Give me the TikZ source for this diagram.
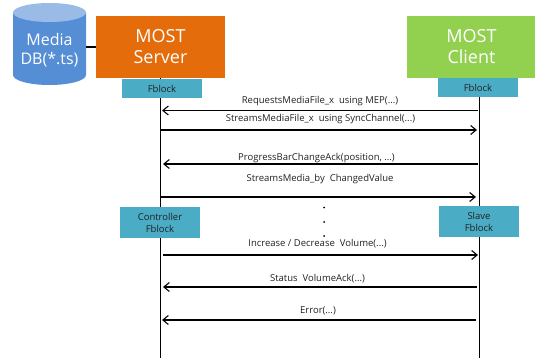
\documentclass[tikz,border=0pt]{standalone}
\usepackage{fontspec}
\setmainfont{Open Sans}
\usetikzlibrary{arrows.meta}
\definecolor{orangebox}{HTML}{E46C0A}
\definecolor{greenbox}{HTML}{92D050}
\definecolor{tealbox}{HTML}{4BACC6}
\definecolor{dbblue}{HTML}{558ED5}
\definecolor{dbtop}{HTML}{9ABBE6}
\definecolor{inktext}{HTML}{222222}
\tikzset{
  mainbox/.style={minimum width=129pt,minimum height=62pt,inner sep=0pt,align=center,text=white,font=\fontsize{18}{21}\selectfont},
  blockbox/.style={fill=tealbox,minimum width=80pt,inner sep=0pt,align=center,text=inktext,font=\fontsize{9.5}{12}\selectfont},
  msg/.style={line width=1.1pt,-{Straight Barb[length=5.5pt,width=9pt,line width=1.1pt]}},
  lbl/.style={inner sep=0pt,text=inktext,font=\fontsize{9.5}{10}\selectfont},
  life/.style={line width=1.1pt},
  dotm/.style={circle,fill=black,inner sep=0pt,minimum size=2pt}
}
\begin{document}
\begin{tikzpicture}[x=1pt,y=-1pt]
\useasboundingbox (0,0) rectangle (535,358);
\fill[white] (0,0) rectangle (535,358);
% end points of lifelines
\coordinate (lbot) at (160.5,358);
\coordinate (rbot) at (479.5,358);
\coordinate (ltop) at (160.5,78);
\coordinate (rtop) at (479.5,78);
\draw[life] (ltop) -- (lbot);
\draw[life] (rtop) -- (rbot);
% database
\fill[dbblue] (13,13) -- (86,13) -- (86,75) arc[x radius=36.5,y radius=10,start angle=0,end angle=180] -- cycle;
\fill[dbtop] (49.5,12.5) ellipse[x radius=36.5,y radius=9.5];
\node[align=center,text=white,inner sep=0pt,font=\fontsize{16}{19.5}\selectfont] (dbtext) at (49.5,50) {Media\\DB(*.ts)};
\coordinate (dbedge) at (86,47.5);
% boxes
\node[mainbox,fill=orangebox] (server) at (160.5,47) {MOST\\Server};
\node[mainbox,fill=greenbox] (client) at (471.5,47) {MOST\\Client};
\draw[line width=2pt] (dbedge) -- (server.west|-dbedge);
\node[blockbox,minimum height=19pt] (fl) at (162,88.5) {Fblock};
\node[blockbox,minimum height=19pt] (fr) at (478,87.5) {Fblock};
\node[blockbox,minimum height=31pt] (ctrl) at (160,222.5) {Controller\\Fblock};
\node[blockbox,minimum height=31pt] (slave) at (479,221.5) {Slave\\Fblock};
% message ends
\foreach \n/\y/\a/\b in {a/110.5/162/478,b/130/161/477,c/164/163/478,d/197/161/476,e/255/163/478,f/287/163/477,g/320/162/476}{
  \coordinate (\n l) at (\a,\y);
  \coordinate (\n r) at (\b,\y);
}
\draw[msg] (ar) -- node[lbl,yshift=9.5pt] (ta) {RequestsMediaFile\_x\ \ using MEP(...)} (al);
\draw[msg] (bl) -- node[lbl,yshift=10.5pt,xshift=1.5pt] (tb) {StreamsMediaFile\_x\ \ using SyncChannel(...)} (br);
\draw[msg] (cr) -- node[lbl,yshift=6pt,xshift=-4pt] (tc) {ProgressBarChangeAck(position, ...)} (cl);
\draw[msg] (dl) -- node[lbl,yshift=18pt,xshift=1.5pt] (td) {StreamsMedia\_by\ \ ChangedValue} (dr);
\draw[msg] (el) -- node[lbl,yshift=11pt,xshift=-3pt] (te) {Increase / Decrease\ \ Volume(...)} (er);
\draw[msg] (fr) -- node[lbl,yshift=8pt,xshift=-2.5pt] (tf) {Status\ \ VolumeAck(...)} (fl);
\draw[msg] (gr) -- node[lbl,yshift=9.5pt,xshift=-1pt] (tg) {Error(...)} (gl);
\node[dotm] (d1) at (324,207.5) {};
\node[dotm] (d2) at (324,222) {};
\node[dotm] (d3) at (324,236) {};
\end{tikzpicture}
\end{document}
